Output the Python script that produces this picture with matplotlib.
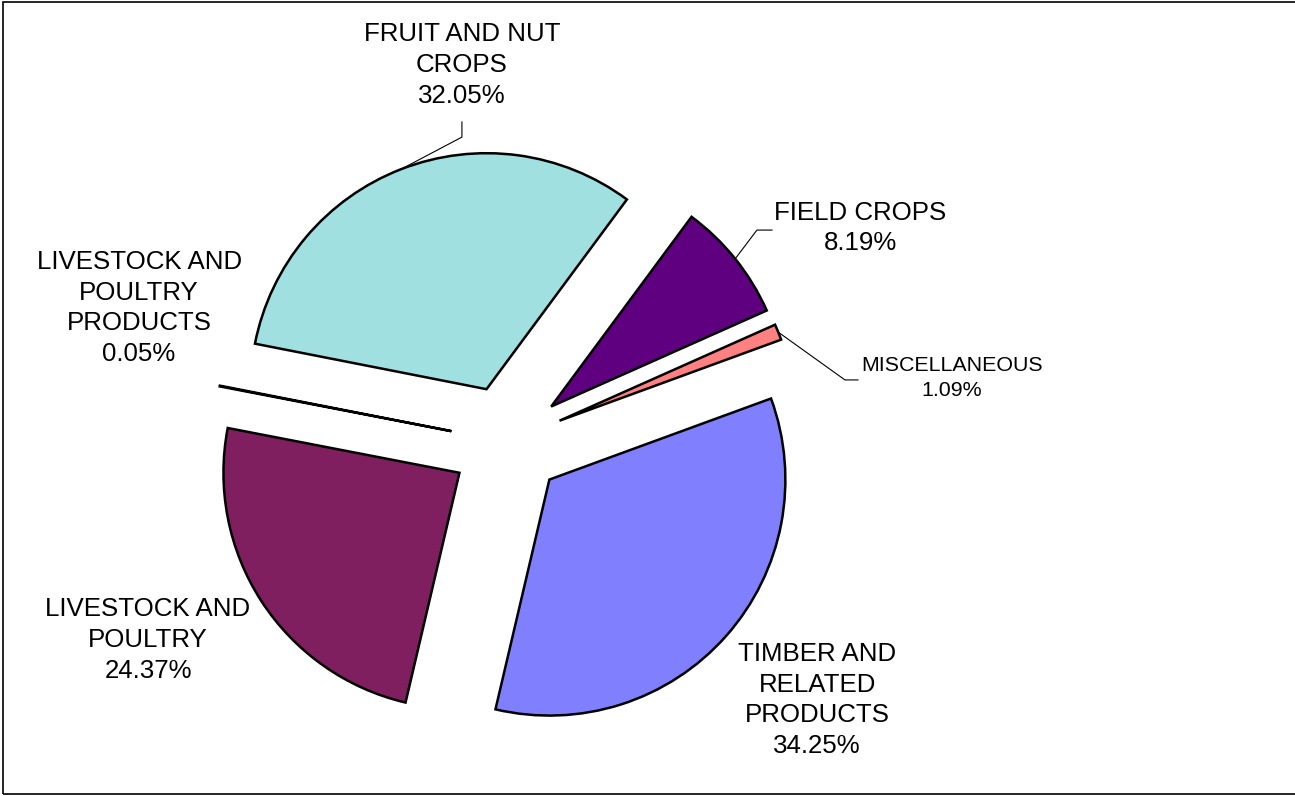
import numpy as np
import matplotlib.pyplot as plt
from matplotlib.patches import Rectangle

plt.rcParams['font.family'] = ['Liberation Sans', 'DejaVu Sans']

# Дані
categories = ["FIELD CROPS", "MISCELLANEOUS", "TIMBER AND\nRELATED\nPRODUCTS",
              "LIVESTOCK AND\nPOULTRY", "LIVESTOCK AND\nPOULTRY\nPRODUCTS",
              "FRUIT AND NUT\nCROPS"]
shares = [8.19, 1.09, 34.25, 24.37, 0.05, 32.05]
colors = ['#5F0080', '#FF8080', '#8080FF', '#801F60', '#FFFFC0', '#A0E0E0']

# Розташування підписів (в одиницях радіуса)
label_pos = [(1.496, 0.907), (1.886, 0.271), (1.314, -1.093),
             (-1.521, -0.839), (-1.559, 0.568), (-0.191, 1.597)]
label_size = [18.6, 15.4, 18.6, 18.6, 18.6, 18.6]
# Виноски: (точка зламу, кінець біля підпису) або None
leaders = [((1.059, 0.898), (1.123, 0.898)),
           ((1.432, 0.263), (1.487, 0.263)),
           None, None, None,
           ((-0.191, 1.292), (-0.191, 1.356))]

explode_r = 0.24

fig = plt.figure(figsize=(12.95, 7.96), dpi=100)
ax = fig.add_axes([0, 0, 1, 1])

wedges, _ = ax.pie(shares, colors=colors, explode=[explode_r] * len(shares),
                   startangle=53.5, counterclock=False, radius=1.0,
                   wedgeprops=dict(edgecolor='black', linewidth=1.8))

for w, name, val, pos, fs, ld in zip(wedges, categories, shares, label_pos,
                                     label_size, leaders):
    ax.text(pos[0], pos[1], f"{name}\n{val:.2f}%", ha='center', va='center',
            multialignment='center', fontsize=fs, linespacing=1.36)
    if ld is not None:
        mid = np.deg2rad((w.theta1 + w.theta2) / 2)
        cx, cy = w.center
        px, py = cx + np.cos(mid), cy + np.sin(mid)
        (ex, ey), (tx, ty) = ld
        ax.plot([px, ex, tx], [py, ey, ty], color='black', lw=0.8)

ax.set_xlim(-507 / 236, (1295 - 507) / 236)
ax.set_ylim(-354 / 236, 442 / 236)
ax.set_aspect('equal')
ax.axis('off')

fig.patches.append(Rectangle((3 / 1295, 2 / 796), 1.0, 792 / 796,
                             transform=fig.transFigure, fill=False,
                             edgecolor='black', linewidth=1.2))

fig.savefig('out.png', dpi=100)
